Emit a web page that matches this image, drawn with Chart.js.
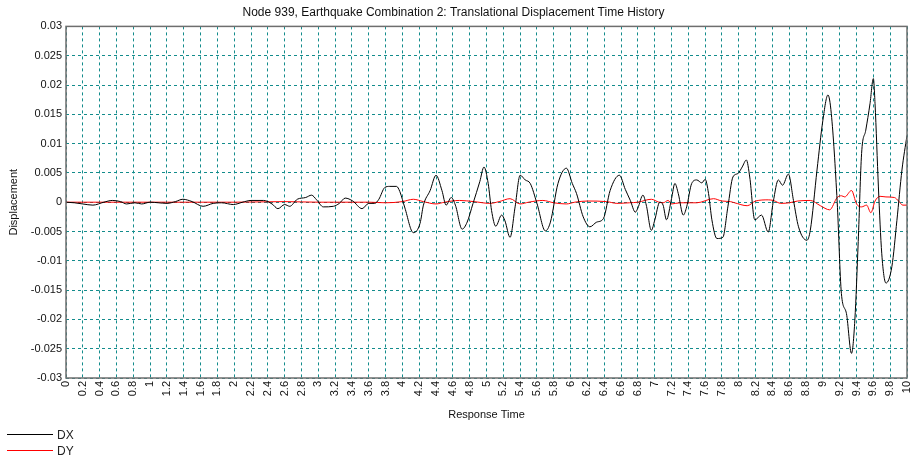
<!DOCTYPE html>
<html>
<head>
<meta charset="utf-8">
<script src="https://cdn.jsdelivr.net/npm/chart.js@4"></script>
<style>
  html, body { margin: 0; padding: 0; background: #fff; }
  canvas { display: block; }
</style>
</head>
<body>
<canvas id="chart" width="912" height="456"></canvas>
<script>
// Data
const chartTitle = 'Node 939, Earthquake Combination 2: Translational Displacement Time History';
const xTitle = 'Response Time';
const yTitle = 'Displacement';
const xMin = 0, xMax = 10, xStep = 0.2;
const yMin = -0.03, yMax = 0.03, yStep = 0.005;

const dxTime = [0, 0.1, 0.2, 0.32, 0.45, 0.55, 0.65, 0.72, 0.82, 0.9, 1.0, 1.1, 1.2, 1.3, 1.39, 1.5, 1.63, 1.75, 1.85, 1.99,
  2.1, 2.2, 2.35, 2.45, 2.52, 2.6, 2.66, 2.75, 2.85, 2.92, 2.98, 3.06, 3.18, 3.25, 3.32, 3.41, 3.52, 3.6, 3.67, 3.72,
  3.79, 3.85, 3.93, 3.97, 4.03, 4.13, 4.21, 4.25, 4.33, 4.4, 4.47, 4.52, 4.58, 4.63, 4.71, 4.77, 4.84, 4.92, 4.97, 5.02,
  5.06, 5.11, 5.18, 5.22, 5.28, 5.34, 5.4, 5.46, 5.52, 5.6, 5.7, 5.76, 5.85, 5.95, 6.02, 6.07, 6.15, 6.23, 6.31, 6.39,
  6.47, 6.58, 6.65, 6.71, 6.77, 6.8, 6.86, 6.9, 6.96, 7.0, 7.06, 7.1, 7.14, 7.2, 7.24, 7.28, 7.34, 7.38, 7.44, 7.5,
  7.56, 7.6, 7.64, 7.68, 7.74, 7.81, 7.87, 7.93, 7.99, 8.04, 8.09, 8.13, 8.19, 8.27, 8.35, 8.41, 8.47, 8.52, 8.59, 8.65,
  8.71, 8.81, 8.85, 8.93, 9.0, 9.06, 9.1, 9.17, 9.22, 9.28, 9.34, 9.38, 9.42, 9.46, 9.51, 9.56, 9.6, 9.62, 9.66, 9.7,
  9.75, 9.82, 9.88, 9.94, 10];
const dxValue = [0, -0.0001, -0.0003, -0.0005, 0, 0.0003, 0.0001, -0.0003, -0.0001, -0.0003, 0, -0.0001, -0.0002, 0.0001, 0.0005, 0.0001, -0.0007, -0.0002, -0.0001, -0.0004,
  0, 0.0003, 0.0003, -0.0003, -0.0011, -0.0004, -0.0007, 0.0005, 0.0008, 0.0012, 0.0004, -0.0008, -0.0007, -0.0002, 0.0007, 0.0002, -0.0011, -0.0002, -0.0002, 0.0005,
  0.0025, 0.0027, 0.0027, 0.0018, -0.001, -0.0052, -0.0036, -0.0005, 0.002, 0.0046, 0.002, -0.0005, 0.0008, -0.0005, -0.0046, -0.0034, -0.0002, 0.0035, 0.006, 0.0032,
  -0.0014, -0.0041, -0.0022, -0.0032, -0.006, -0.0008, 0.0046, 0.0038, 0.0032, -0.0002, -0.0049, -0.0034, 0.0032, 0.0058, 0.0032, 0.0015, -0.0025, -0.0042, -0.0034, -0.0028,
  0.002, 0.0046, 0.0022, 0.0003, -0.0017, -0.001, 0.0012, -0.0005, -0.0048, -0.0031, 0, -0.0005, -0.003, 0.0006, 0.0032, 0.0015, -0.0022, -0.0008, 0.0032, 0.0038,
  0.0033, 0.0039, 0.0015, -0.003, -0.0062, -0.006, -0.0008, 0.0043, 0.0049, 0.006, 0.0072, 0.0043, -0.003, -0.0022, -0.0051, 0.0001, 0.0038, 0.0029, 0.0048, 0.0003,
  -0.0042, -0.0065, -0.0048, 0.0055, 0.014, 0.0183, 0.0151, 0, -0.0156, -0.019, -0.0258, -0.0201, -0.0067, 0.0083, 0.0123, 0.0168, 0.0211, 0.0168, 0.0026, -0.0088,
  -0.0138, -0.011, -0.0031, 0.0055, 0.0114];

const dyTime = [0, 1, 2, 2.6, 3.0, 3.6, 3.8, 4.0, 4.13, 4.25, 4.4, 4.5, 4.68, 4.85, 5.04, 5.15, 5.28, 5.4, 5.5, 5.67,
  5.8, 5.95, 6.05, 6.2, 6.43, 6.55, 6.7, 6.8, 6.96, 7.05, 7.1, 7.16, 7.2, 7.3, 7.5, 7.7, 7.8, 7.9, 7.95, 8.1,
  8.2, 8.35, 8.41, 8.5, 8.6, 8.7, 8.85, 8.97, 9.08, 9.17, 9.22, 9.26, 9.34, 9.4, 9.46, 9.52, 9.57, 9.62, 9.68, 9.75,
  9.85, 9.9, 9.95, 10];
const dyValue = [0, 0, 0, 0.0001, 0, 0, -0.0001, 0.0001, 0.0005, 0.0001, -0.0003, 0, 0.0003, 0.0001, -0.0002, 0.0001, 0.0006, -0.0003, 0, 0.0003,
  -0.0001, -0.0003, 0, 0.0002, 0.0001, -0.0002, -0.0001, 0, 0.0005, 0, -0.0001, 0.0003, -0.0003, -0.0001, -0.0001, 0.0006, 0.0002, 0.0001, -0.0001, -0.0006,
  0.0002, 0.0004, 0.0003, -0.0002, -0.0001, 0.0002, 0.0003, -0.0006, -0.0013, 0.0008, 0.0011, 0.0009, 0.002, -0.0003, -0.0008, -0.0005, -0.0018, 0.0002, 0.001, 0.0009,
  0.0008, 0.0002, -0.0005, -0.0005];

const seriesLabels = ['DX', 'DY'];
const seriesColors = ['#000000', '#ff0000'];

function toPoints(xs, ys) {
  return xs.map((x, i) => ({ x: x, y: ys[i] }));
}

const fontFamily = "'Liberation Sans', Arial, sans-serif";
const gridColor = '#138c8c';

// frame around the plot area
const framePlugin = {
  id: 'frame',
  afterDatasetsDraw(chart) {
    const { ctx, chartArea: a } = chart;
    ctx.save();
    ctx.strokeStyle = '#6e6e6e';
    ctx.lineWidth = 1.5;
    ctx.strokeRect(a.left, a.top, a.right - a.left, a.bottom - a.top);
    ctx.restore();
  }
};

// stacked legend in the lower left corner
const stackLegend = {
  id: 'stackLegend',
  afterDraw(chart) {
    const ctx = chart.ctx;
    ctx.save();
    ctx.font = '12px ' + fontFamily;
    ctx.textBaseline = 'middle';
    chart.data.datasets.forEach((ds, i) => {
      const y = 434.5 + i * 16;
      ctx.strokeStyle = ds.borderColor;
      ctx.lineWidth = 1;
      ctx.beginPath();
      ctx.moveTo(7, y);
      ctx.lineTo(53, y);
      ctx.stroke();
      ctx.fillStyle = '#222';
      ctx.fillText(ds.label, 57, y + 1);
    });
    ctx.restore();
  }
};

const ctx = document.getElementById('chart').getContext('2d');
new Chart(ctx, {
  type: 'line',
  data: {
    datasets: [
      {
        label: seriesLabels[0],
        data: toPoints(dxTime, dxValue),
        borderColor: seriesColors[0],
        borderWidth: 1,
        pointRadius: 0,
        cubicInterpolationMode: 'monotone'
      },
      {
        label: seriesLabels[1],
        data: toPoints(dyTime, dyValue),
        borderColor: seriesColors[1],
        borderWidth: 1,
        pointRadius: 0,
        cubicInterpolationMode: 'monotone'
      }
    ]
  },
  options: {
    responsive: false,
    animation: false,
    maintainAspectRatio: false,
    layout: { padding: { left: 0, right: 5, top: 0, bottom: 30 } },
    plugins: {
      legend: { display: false },
      tooltip: { enabled: false },
      title: {
        display: true,
        text: chartTitle,
        color: '#111',
        font: { family: fontFamily, size: 12, weight: 'normal' },
        padding: { top: 5, bottom: 7 }
      }
    },
    scales: {
      x: {
        type: 'linear',
        min: xMin,
        max: xMax,
        afterFit(scale) {
          scale.height = 48;
          scale.paddingLeft = 0;
          scale.paddingRight = 0;
        },
        ticks: {
          stepSize: xStep,
          autoSkip: false,
          minRotation: 90,
          maxRotation: 90,
          padding: 3,
          color: '#111',
          font: { family: fontFamily, size: 11 },
          callback: (v) => String(+v.toFixed(1))
        },
        grid: { color: gridColor, lineWidth: 1, drawTicks: false },
        border: { display: false, dash: [3, 3] },
        title: {
          display: true,
          text: xTitle,
          color: '#111',
          font: { family: fontFamily, size: 11 },
          padding: { top: 0, bottom: 4 }
        }
      },
      y: {
        type: 'linear',
        min: yMin,
        max: yMax,
        afterFit(scale) {
          scale.width = 66;
          scale.paddingTop = 0;
          scale.paddingBottom = 0;
        },
        ticks: {
          stepSize: yStep,
          padding: 4,
          color: '#111',
          font: { family: fontFamily, size: 11 },
          callback: (v) => String(+v.toFixed(3))
        },
        grid: { color: gridColor, lineWidth: 1, drawTicks: false },
        border: { display: false, dash: [3, 3] },
        title: {
          display: true,
          text: yTitle,
          color: '#111',
          font: { family: fontFamily, size: 11 },
          padding: { top: 7, bottom: 0 }
        }
      }
    }
  },
  plugins: [framePlugin, stackLegend]
});
</script>
</body>
</html>
